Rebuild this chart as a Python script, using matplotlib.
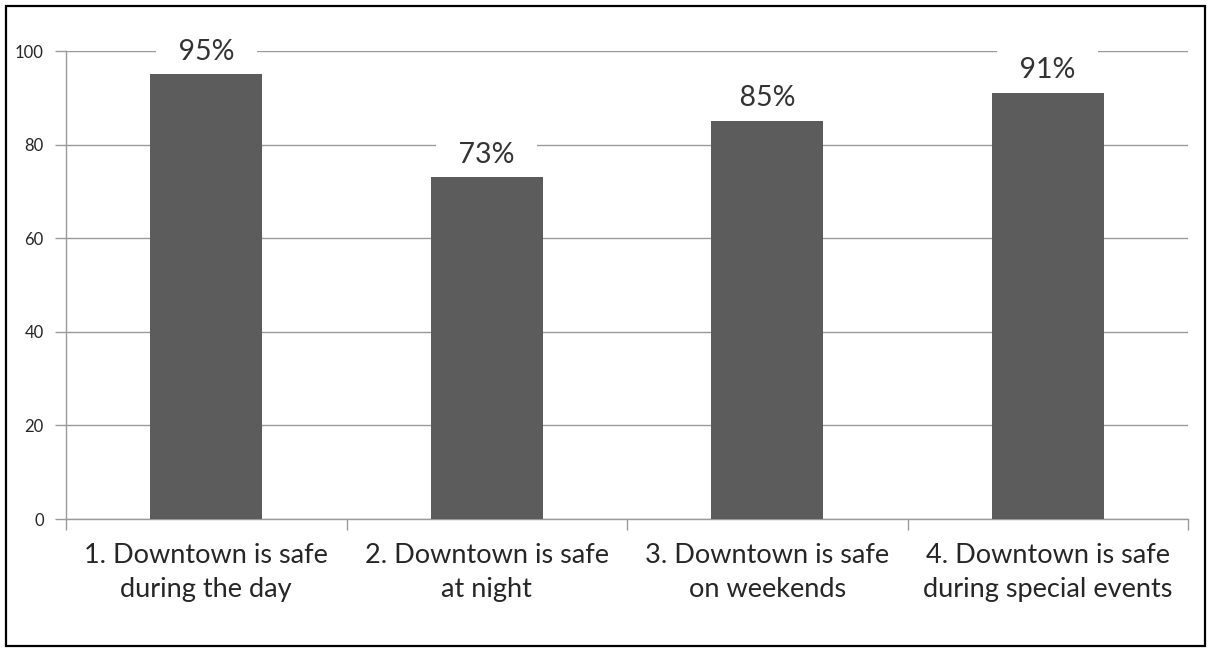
import matplotlib.pyplot as plt
from matplotlib.patches import Rectangle

categories = ['1. Downtown is safe\nduring the day',
              '2. Downtown is safe\nat night',
              '3. Downtown is safe\non weekends',
              '4. Downtown is safe\nduring special events']
values = [95, 73, 85, 91]
yticks = [0, 20, 40, 60, 80, 100]

plt.rcParams['font.family'] = ['Lato', 'DejaVu Sans']

fig = plt.figure(figsize=(12.11, 6.51), dpi=100, facecolor='white')
ax = fig.add_axes([66 / 1211, 1 - 519 / 651, (1188 - 66) / 1211, (519 - 51) / 651])

# outer frame around the whole picture
fig.patches.append(Rectangle((6 / 1211, 5 / 651), 1199 / 1211, 640 / 651,
                             transform=fig.transFigure, fill=False,
                             edgecolor='black', linewidth=1.6))

x = list(range(len(categories)))
bars = ax.bar(x, values, width=0.4, color='#5c5c5c', zorder=4)

for xi, v in zip(x, values):
    ax.annotate(f'  {v}%  ', (xi, v), xytext=(0, 7), textcoords='offset points',
                ha='center', va='bottom', fontsize=20.5, color='#333333',
                bbox=dict(boxstyle='square,pad=0.28', facecolor='white', edgecolor='none'),
                zorder=3)

ax.set_xlim(-0.5, len(categories) - 0.5)
ax.set_ylim(0, 100)
ax.set_yticks(yticks)
ax.set_yticklabels([str(t) for t in yticks], fontsize=12, color='#262626')
ax.yaxis.grid(True, color='#9a9a9a', linewidth=1, zorder=0)
ax.tick_params(axis='y', length=8, width=1, color='#9a9a9a', pad=8)

# category labels centered, tick marks at boundaries
ax.set_xticks(x)
ax.set_xticklabels(categories, fontsize=19.5, color='#262626', linespacing=1.45)
ax.tick_params(axis='x', which='major', length=0, pad=17)
ax.set_xticks([i - 0.5 for i in range(len(categories) + 1)], minor=True)
ax.tick_params(axis='x', which='minor', length=8, width=1, color='#9a9a9a')

for s in ['top', 'right']:
    ax.spines[s].set_visible(False)
for s in ['left', 'bottom']:
    ax.spines[s].set_color('#9a9a9a')
    ax.spines[s].set_linewidth(1)

fig.savefig('out.png', dpi=100, facecolor='white')
